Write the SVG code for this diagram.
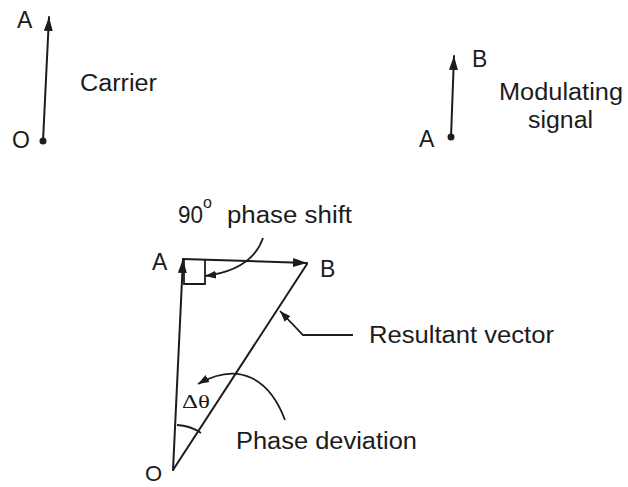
<svg xmlns="http://www.w3.org/2000/svg" width="628" height="487" viewBox="0 0 628 487">
<style>
  text { font-family: "Liberation Sans", Arial, sans-serif; fill: #1c1c1c; }
  .lbl { font-size: 23px; }
  .ln { stroke: #1c1c1c; stroke-width: 2; fill: none; stroke-linecap: round; }
  .thin { stroke: #1c1c1c; stroke-width: 1.8; fill: none; }
</style>
<defs>
  <marker id="arr" markerUnits="userSpaceOnUse" markerWidth="15" markerHeight="10" refX="14" refY="5" orient="auto">
    <path d="M0,0.5 L14,5 L0,9.5 z" fill="#1c1c1c"/>
  </marker>
  <marker id="arrs" markerUnits="userSpaceOnUse" markerWidth="12" markerHeight="9" refX="11" refY="4.5" orient="auto">
    <path d="M0,0.5 L11,4.5 L0,8.5 z" fill="#1c1c1c"/>
  </marker>
</defs>
<rect width="628" height="487" fill="#ffffff"/>

<g id="connectors">
  <line class="ln" x1="43" y1="141" x2="49" y2="17" marker-end="url(#arr)"/>
  <line class="ln" x1="451" y1="137" x2="454" y2="56" marker-end="url(#arr)"/>
  <line class="ln" x1="173" y1="470" x2="183" y2="259" marker-end="url(#arr)"/>
  <line class="ln" x1="183" y1="259" x2="307" y2="263" marker-end="url(#arr)"/>
  <line class="ln" x1="173" y1="470" x2="307" y2="264"/>
  <polyline class="thin" points="184,260 184,284 205,284 205,260"/>
  <path class="thin" d="M263,238 Q252,270 205,276" marker-end="url(#arrs)"/>
  <path class="thin" d="M353,335 L303,335 L280,311" marker-end="url(#arrs)"/>
  <path class="thin" d="M285,420 C270,380 240,360 198,384" marker-end="url(#arrs)"/>
  <path class="thin" d="M177,425 A46,46 0 0 1 201,433"/>
</g>

<g id="carrier">
  <circle cx="43" cy="141" r="3.5" fill="#1c1c1c"/>
  <text class="lbl" x="17" y="28">A</text>
  <text class="lbl" x="12" y="148">O</text>
  <text class="lbl" x="80" y="91" textLength="77" lengthAdjust="spacingAndGlyphs">Carrier</text>
</g>

<g id="modulating">
  <circle cx="451" cy="137" r="3.5" fill="#1c1c1c"/>
  <text class="lbl" x="472" y="67">B</text>
  <text class="lbl" x="419" y="147">A</text>
  <text class="lbl" x="499" y="100" textLength="124" lengthAdjust="spacingAndGlyphs">Modulating</text>
  <text class="lbl" x="528" y="128" textLength="65" lengthAdjust="spacingAndGlyphs">signal</text>
</g>

<g id="resultant">
  <text class="lbl" x="152" y="270">A</text>
  <text class="lbl" x="320" y="277">B</text>
  <text x="145" y="481" style="font-size:22px">O</text>
  <text class="lbl" x="178" y="223" textLength="25" lengthAdjust="spacingAndGlyphs">90</text>
  <text x="203" y="208" style="font-size:16px">o</text>
  <text class="lbl" x="227" y="223" textLength="125" lengthAdjust="spacingAndGlyphs">phase shift</text>
  <text class="lbl" x="369" y="343" textLength="185" lengthAdjust="spacingAndGlyphs">Resultant vector</text>
  <text x="182" y="408" style="font-family:'Liberation Serif','DejaVu Serif',serif;font-size:19px" textLength="28" lengthAdjust="spacingAndGlyphs">Δθ</text>
  <text class="lbl" x="236" y="449" textLength="181" lengthAdjust="spacingAndGlyphs">Phase deviation</text>
</g>
</svg>
